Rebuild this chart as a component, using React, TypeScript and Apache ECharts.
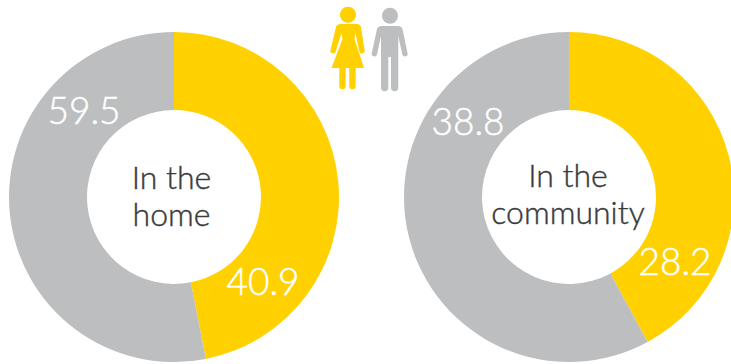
import React, { useEffect, useRef } from "react";
import * as echarts from "echarts";

const groupNames = ["Women", "Men"];
const homeSlices = [46.9, 53.1];
const communitySlices = [28.2, 38.8];
// Values printed on the slices
const homeLabels = ["40.9", "59.5"];
const communityLabels = ["28.2", "38.8"];
const homeTitle = "In the\nhome";
const communityTitle = "In the\ncommunity";

const YELLOW = "#FFD100";
const GREY = "#BCBEC0";
const INK = "#3A3A3C";
const FONT = "Lato, sans-serif";

const WOMAN =
  "M341 24 L357 24 Q360 24 361 27 L364.5 50 A2.7 2.7 0 0 1 359.3 51.5 L355.5 33 L354.5 39 L364 68 L355.7 68 L355.7 86 A3.2 3.2 0 0 1 349.3 86 L349.3 68 L345.7 68 L345.7 86 A3.2 3.2 0 0 1 339.3 86 L339.3 68 L331.5 68 L342.5 39 L341.5 33 L335.7 51.5 A2.7 2.7 0 0 1 330.5 50 L336 27 Q337 24 341 24 Z";
const MAN =
  "M382 26 L398 26 Q401.5 26 402.5 29 L407.5 53 A2.7 2.7 0 0 1 402.3 54.5 L398.3 36 L398.3 87.5 A3.6 3.6 0 0 1 391 87.5 L391 57 L388.3 57 L388.3 87.5 A3.6 3.6 0 0 1 381 87.5 L381 36 L377 54.5 A2.7 2.7 0 0 1 371.8 53 L377 29 Q378 26 382 26 Z";

echarts.graphic.registerShape("womanIcon", echarts.graphic.extendPath(WOMAN, {}));
echarts.graphic.registerShape("manIcon", echarts.graphic.extendPath(MAN, {}));

function donut(
  center: [number, number],
  slices: number[],
  labels: string[],
  labelPos: [number, number][]
) {
  return {
    type: "pie",
    center,
    radius: [87, 165],
    startAngle: 90,
    clockwise: true,
    silent: true,
    avoidLabelOverlap: false,
    labelLine: { show: false },
    label: {
      show: true,
      position: "inside",
      color: "#fff",
      textBorderColor: "#fff",
      textBorderWidth: 0.5,
      fontFamily: FONT,
      fontWeight: 300,
      fontSize: 37,
      formatter: (p: any) => labels[p.dataIndex],
    },
    labelLayout: (p: any) => ({
      x: labelPos[p.dataIndex][0],
      y: labelPos[p.dataIndex][1],
      align: "center",
      verticalAlign: "middle",
    }),
    data: slices.map((value, i) => ({
      name: groupNames[i],
      value,
      itemStyle: { color: i === 0 ? YELLOW : GREY },
    })),
  };
}

function centerText(x: number, y: number, text: string) {
  return {
    type: "text",
    x,
    y,
    style: {
      text,
      fill: INK,
      stroke: INK,
      lineWidth: 0.4,
      font: `300 32px ${FONT}`,
      align: "center",
      verticalAlign: "middle",
      lineHeight: 37,
    },
  };
}

export default function App() {
  const ref = useRef<HTMLDivElement>(null);
  useEffect(() => {
    document.body.style.margin = "0";
    const chart = echarts.init(ref.current!, undefined, { renderer: "svg" });
    chart.setOption({
      animation: false,
      backgroundColor: "#fff",
      series: [
        donut([174, 197], homeSlices, homeLabels, [[263, 280], [84, 109]]),
        donut([569, 197], communitySlices, communityLabels, [[675, 260], [468, 120]]),
      ],
      graphic: [
        centerText(171.5, 195, homeTitle),
        centerText(568, 193, communityTitle),
        { type: "circle", shape: { cx: 348, cy: 14.7, r: 8 }, style: { fill: YELLOW } },
        { type: "womanIcon", x: 0, y: 0, style: { fill: YELLOW } },
        { type: "circle", shape: { cx: 390, cy: 15.7, r: 8 }, style: { fill: GREY } },
        { type: "manIcon", x: 0, y: 0, style: { fill: GREY } },
      ],
    });
    return () => chart.dispose();
  }, []);
  return <div ref={ref} style={{ width: 731, height: 364 }} />;
}
